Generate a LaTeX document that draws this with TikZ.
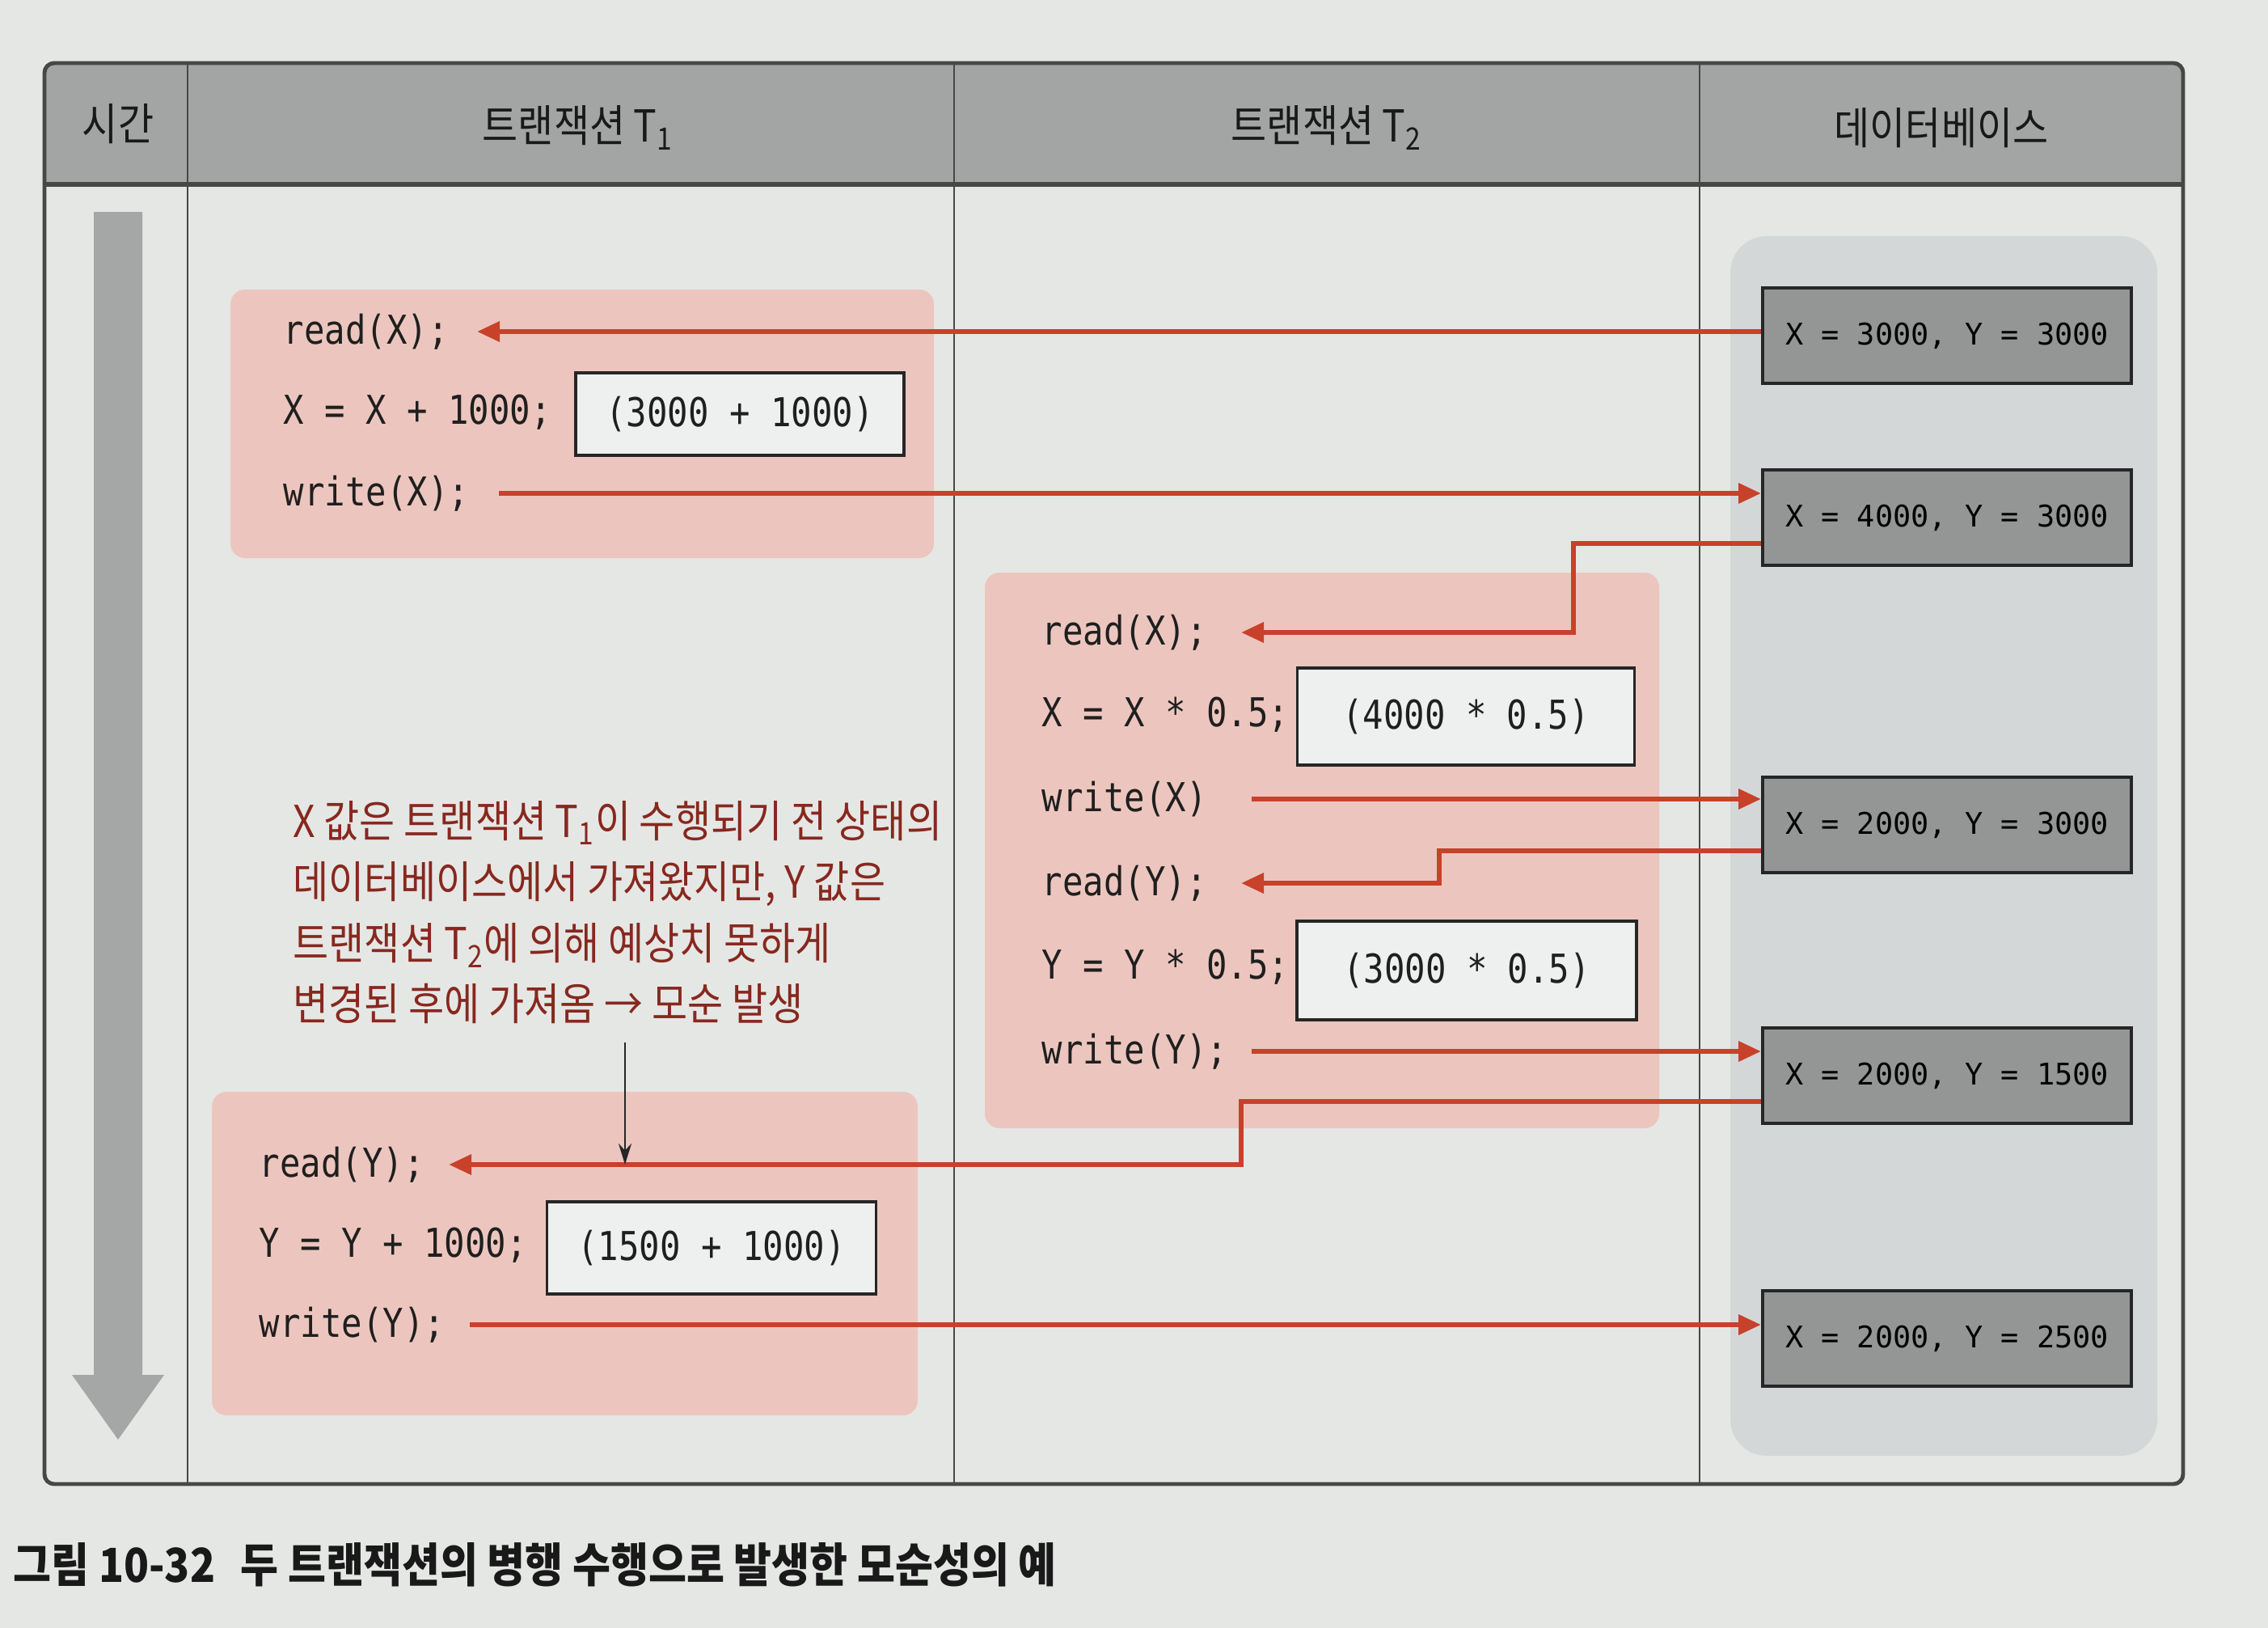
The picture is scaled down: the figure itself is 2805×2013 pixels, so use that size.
\documentclass[tikz,border=0pt]{standalone}
\usepackage{fontspec}
\setmainfont{DejaVu Sans}
\newfontfamily\krfont[FakeStretch=0.88]{Noto Sans CJK KR}
\newfontfamily\codefont[FakeStretch=0.86]{DejaVu Sans Mono}
\newfontfamily\dbfont{DejaVu Sans Mono}
\usetikzlibrary{arrows.meta,calc}
\definecolor{page}{RGB}{229,231,229}
\definecolor{hdr}{RGB}{163,165,165}
\definecolor{pinkbox}{RGB}{236,198,190}
\definecolor{dbpanel}{RGB}{212,215,215}
\definecolor{dbbox}{RGB}{148,150,150}
\definecolor{redline}{RGB}{200,65,42}
\definecolor{notered}{RGB}{135,40,30}
\definecolor{calcfill}{RGB}{238,240,240}
\definecolor{timegray}{RGB}{165,167,167}
\definecolor{frameline}{RGB}{70,72,72}
\begin{document}
\begin{tikzpicture}[x=0.1mm,y=-0.1mm,
  code/.style={anchor=west,inner sep=0pt,font=\codefont\fontsize{14}{16}\selectfont,text=black!88},
  calcbox/.style={draw=black!85,line width=1.1pt,fill=calcfill,inner sep=0pt,
     font=\codefont\fontsize{14}{16}\selectfont,text=black!88},
  dbnode/.style={draw=black!85,line width=1.1pt,fill=dbbox,inner sep=0pt,
     minimum width=45.6mm,minimum height=11.8mm,font=\dbfont\fontsize{10.5}{12}\selectfont},
  hdrtext/.style={font=\krfont\fontsize{15.5}{17}\selectfont,text=black!90},
  redarr/.style={draw=redline,line width=1.8pt,-{Triangle[length=2.8mm,width=2.4mm]}},
  notearr/.style={draw=black!85,line width=0.8pt,-{Stealth[length=2.6mm,width=1.6mm]}},
  colline/.style={draw=frameline,line width=0.8pt},
  pinkarea/.style={fill=pinkbox,rounded corners=1.8mm}
]
% page
\fill[page] (0,0) rectangle (2805,2013);
\useasboundingbox (0,0) rectangle (2805,2013);
% header
\fill[hdr] (55,228) [rounded corners=1.2mm] -- (55,78) -- (2700,78) [sharp corners] -- (2700,228) -- cycle;
% DB panel
\fill[dbpanel,rounded corners=4.5mm] (2140,292) rectangle (2668,1800);
% pink areas
\fill[pinkarea] (285,358) rectangle (1155,690);
\fill[pinkarea] (1218,708) rectangle (2052,1395);
\fill[pinkarea] (262,1350) rectangle (1135,1750);
% column lines
\draw[colline] (232,78) -- (232,1835);
\draw[colline] (1180,78) -- (1180,1835);
\draw[colline] (2102,78) -- (2102,1835);
% header bottom and frame
\draw[draw=frameline,line width=1.6pt] (55,228) -- (2700,228);
\draw[draw=frameline,line width=1.4pt,rounded corners=1.2mm] (55,78) rectangle (2700,1835);
% header labels
\node[hdrtext] (hTime) at (146,153) {시간};
\node[hdrtext] (hT1) at (715,158) {트랜잭션 T\textsubscript{1}};
\node[hdrtext] (hT2) at (1641,158) {트랜잭션 T\textsubscript{2}};
\node[hdrtext] (hDB) at (2401,158) {데이터베이스};
% time arrow
\fill[timegray] (116,262) -- (176,262) -- (176,1700) -- (203,1700) -- (146,1780) -- (89,1700) -- (116,1700) -- cycle;
% T1 first block
\node[code] (r1x) at (350,410) {read(X);};
\node[code] (c1x) at (350,510) {X = X + 1000;};
\node[code] (w1x) at (350,610) {write(X);};
\node[calcbox,minimum width=40.6mm,minimum height=10.2mm] (k1) at (915,512) {(3000 + 1000)};
% T2 block
\node[code] (r2x) at (1288,782) {read(X);};
\node[code] (c2x) at (1288,884) {X = X * 0.5;};
\node[code] (w2x) at (1288,988) {write(X)};
\node[code] (r2y) at (1288,1092) {read(Y);};
\node[code] (c2y) at (1288,1196) {Y = Y * 0.5;};
\node[code] (w2y) at (1288,1300) {write(Y);};
\node[calcbox,minimum width=41.7mm,minimum height=12mm] (k2) at (1813,886) {(4000 * 0.5)};
\node[calcbox,minimum width=42mm,minimum height=12.2mm] (k3) at (1814,1200) {(3000 * 0.5)};
% T1 second block
\node[code] (r1y) at (320,1440) {read(Y);};
\node[code] (c1y) at (320,1540) {Y = Y + 1000;};
\node[code] (w1y) at (320,1638) {write(Y);};
\node[calcbox,minimum width=40.7mm,minimum height=11.4mm] (k4) at (880,1543) {(1500 + 1000)};
% DB states
\node[dbnode] (db1) at (2408,415) {X = 3000, Y = 3000};
\node[dbnode] (db2) at (2408,640) {X = 4000, Y = 3000};
\node[dbnode] (db3) at (2408,1020) {X = 2000, Y = 3000};
\node[dbnode] (db4) at (2408,1330) {X = 2000, Y = 1500};
\node[dbnode] (db5) at (2408,1655) {X = 2000, Y = 2500};
% note
\node[anchor=west,align=left,inner sep=0pt,text=notered,
  font=\krfont\fontsize{15.5}{21.5}\selectfont] (note) at (362,1128)
  {X 값은 트랜잭션 T\textsubscript{1}이 수행되기 전 상태의\\
   데이터베이스에서 가져왔지만, Y 값은\\
   트랜잭션 T\textsubscript{2}에 의해 예상치 못하게\\
   변경된 후에 가져옴 → 모순 발생};
% helper x positions
\coordinate (t1a) at (590,0);
\coordinate (t1w) at (617,0);
\coordinate (t1b) at (555,0);
\coordinate (t1c) at (581,0);
\coordinate (t2a) at (1535,0);
\coordinate (t2w) at (1548,0);
\coordinate (j1) at (1946,0);
\coordinate (j2) at (1780,0);
\coordinate (j3) at (1535,0);
\coordinate (xa) at (773,0);
% connectors
\draw[redarr] (db1.west |- r1x) -- (r1x -| t1a);
\draw[redarr] (w1x -| t1w) -- (db2.west |- w1x);
\draw[redarr] ($(db2.west)+(0,32)$) -| (j1 |- r2x) -- (r2x -| t2a);
\draw[redarr] (w2x -| t2w) -- (db3.west |- w2x);
\draw[redarr] ($(db3.west)+(0,32)$) -| (j2 |- r2y) -- (r2y -| t2a);
\draw[redarr] (w2y -| t2w) -- (db4.west |- w2y);
\draw[redarr] ($(db4.west)+(0,32)$) -| (j3 |- r1y) -- (r1y -| t1b);
\draw[redarr] (w1y -| t1c) -- (db5.west |- w1y);
\draw[notearr] ($(note.south -| xa)+(0,22)$) -- (r1y -| xa);
% caption
\node[anchor=west,inner sep=0pt,font=\krfont\bfseries\fontsize{16.5}{19}\selectfont,text=black!90] (cap) at (16,1935)
  {그림 10-32\hspace{2mm} 두 트랜잭션의 병행 수행으로 발생한 모순성의 예};
\end{tikzpicture}
\end{document}
